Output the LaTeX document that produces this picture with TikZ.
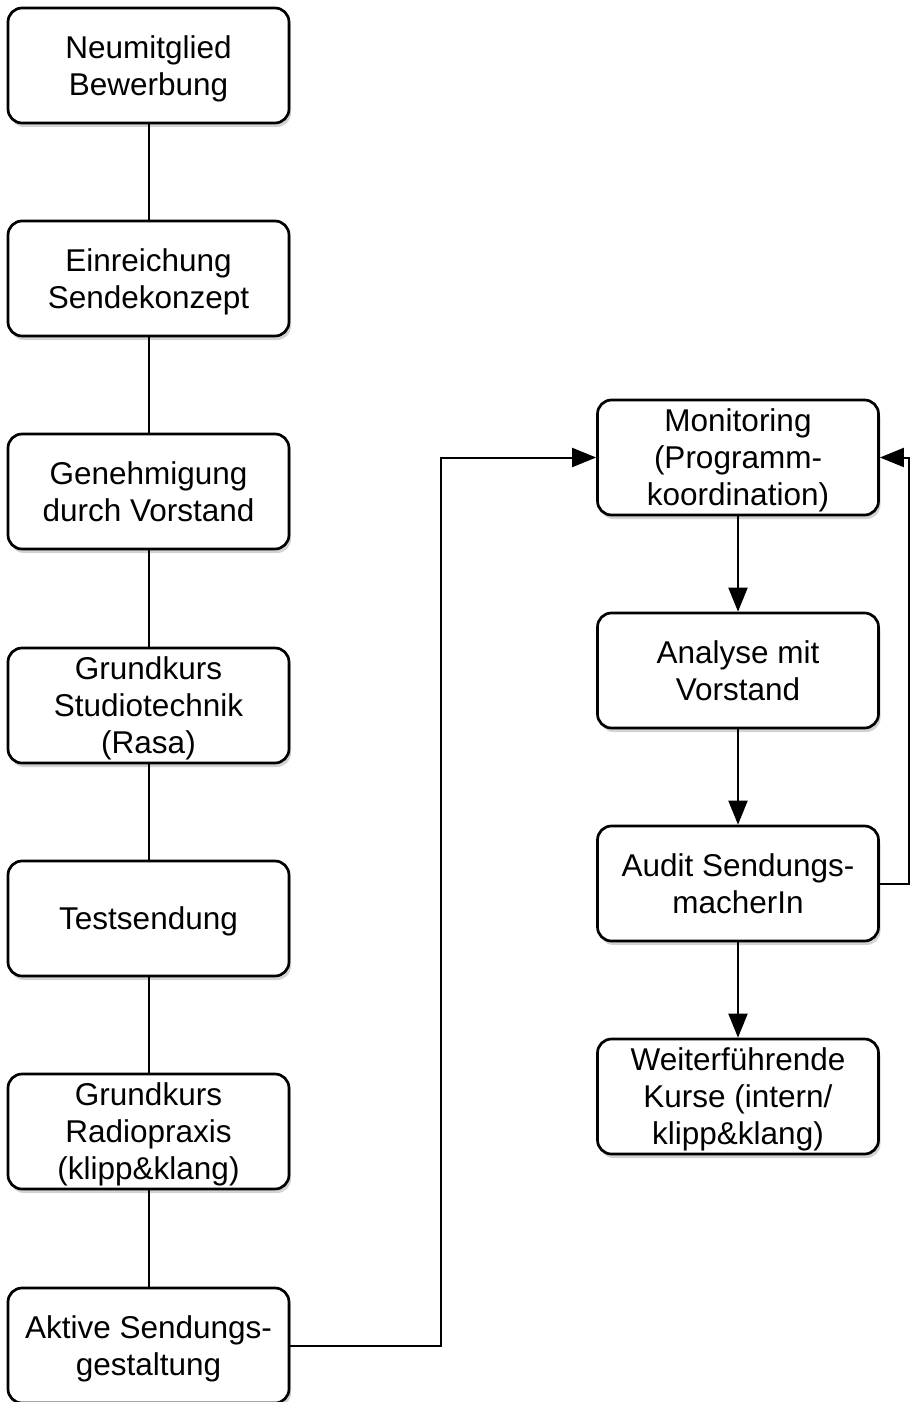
\documentclass[tikz,border=0pt]{standalone}
\usepackage{fontspec}
\setmainfont{Liberation Sans}
\usetikzlibrary{shadows,arrows.meta}
\begin{document}
\begin{tikzpicture}[x=1pt,y=-1pt,
  box/.style={draw=black,line width=2.7pt,rounded corners=14pt,fill=white,
    minimum width=281pt,minimum height=115pt,align=center,
    font=\fontsize{31.5}{37}\selectfont,inner sep=0pt,text depth=0pt,
    drop shadow={opacity=0.35,shadow xshift=2pt,shadow yshift=-4pt}},
  link/.style={line width=2pt},
  arr/.style={line width=2pt,-{Triangle[length=24pt,width=19pt]}}]
\useasboundingbox (0,0) rectangle (912,1402);
\node[box] (n1) at (148.5,65.5) {Neumitglied\\Bewerbung};
\node[box] (n2) at (148.5,278.5) {Einreichung\\Sendekonzept};
\node[box] (n3) at (148.5,491.5) {Genehmigung\\durch Vorstand};
\node[box] (n4) at (148.5,705.5) {Grundkurs\\Studiotechnik\\(Rasa)};
\node[box] (n5) at (148.5,918.5) {Testsendung};
\node[box] (n6) at (148.5,1131.5) {Grundkurs\\Radiopraxis\\(klipp\&klang)};
\node[box] (n7) at (148.5,1345.5) {Aktive Sendungs-\\gestaltung};
\node[box] (m1) at (738,457.5) {Monitoring\\(Programm-\\koordination)};
\node[box] (m2) at (738,670.5) {Analyse mit\\Vorstand};
\node[box] (m3) at (738,883.5) {Audit Sendungs-\\macherIn};
\node[box] (m4) at (738,1096.5) {Weiterführende\\Kurse (intern/\\klipp\&klang)};
\draw[link] (n1) -- (n2);
\draw[link] (n2) -- (n3);
\draw[link] (n3) -- (n4);
\draw[link] (n4) -- (n5);
\draw[link] (n5) -- (n6);
\draw[link] (n6) -- (n7);
\draw[arr] (n7.east) -- (441,1345.5) |- (m1.west);
\draw[arr] (m1) -- (m2);
\draw[arr] (m2) -- (m3);
\draw[arr] (m3) -- (m4);
\draw[arr] (m3.east) -- (909,883.5) |- (m1.east);
\end{tikzpicture}
\end{document}
